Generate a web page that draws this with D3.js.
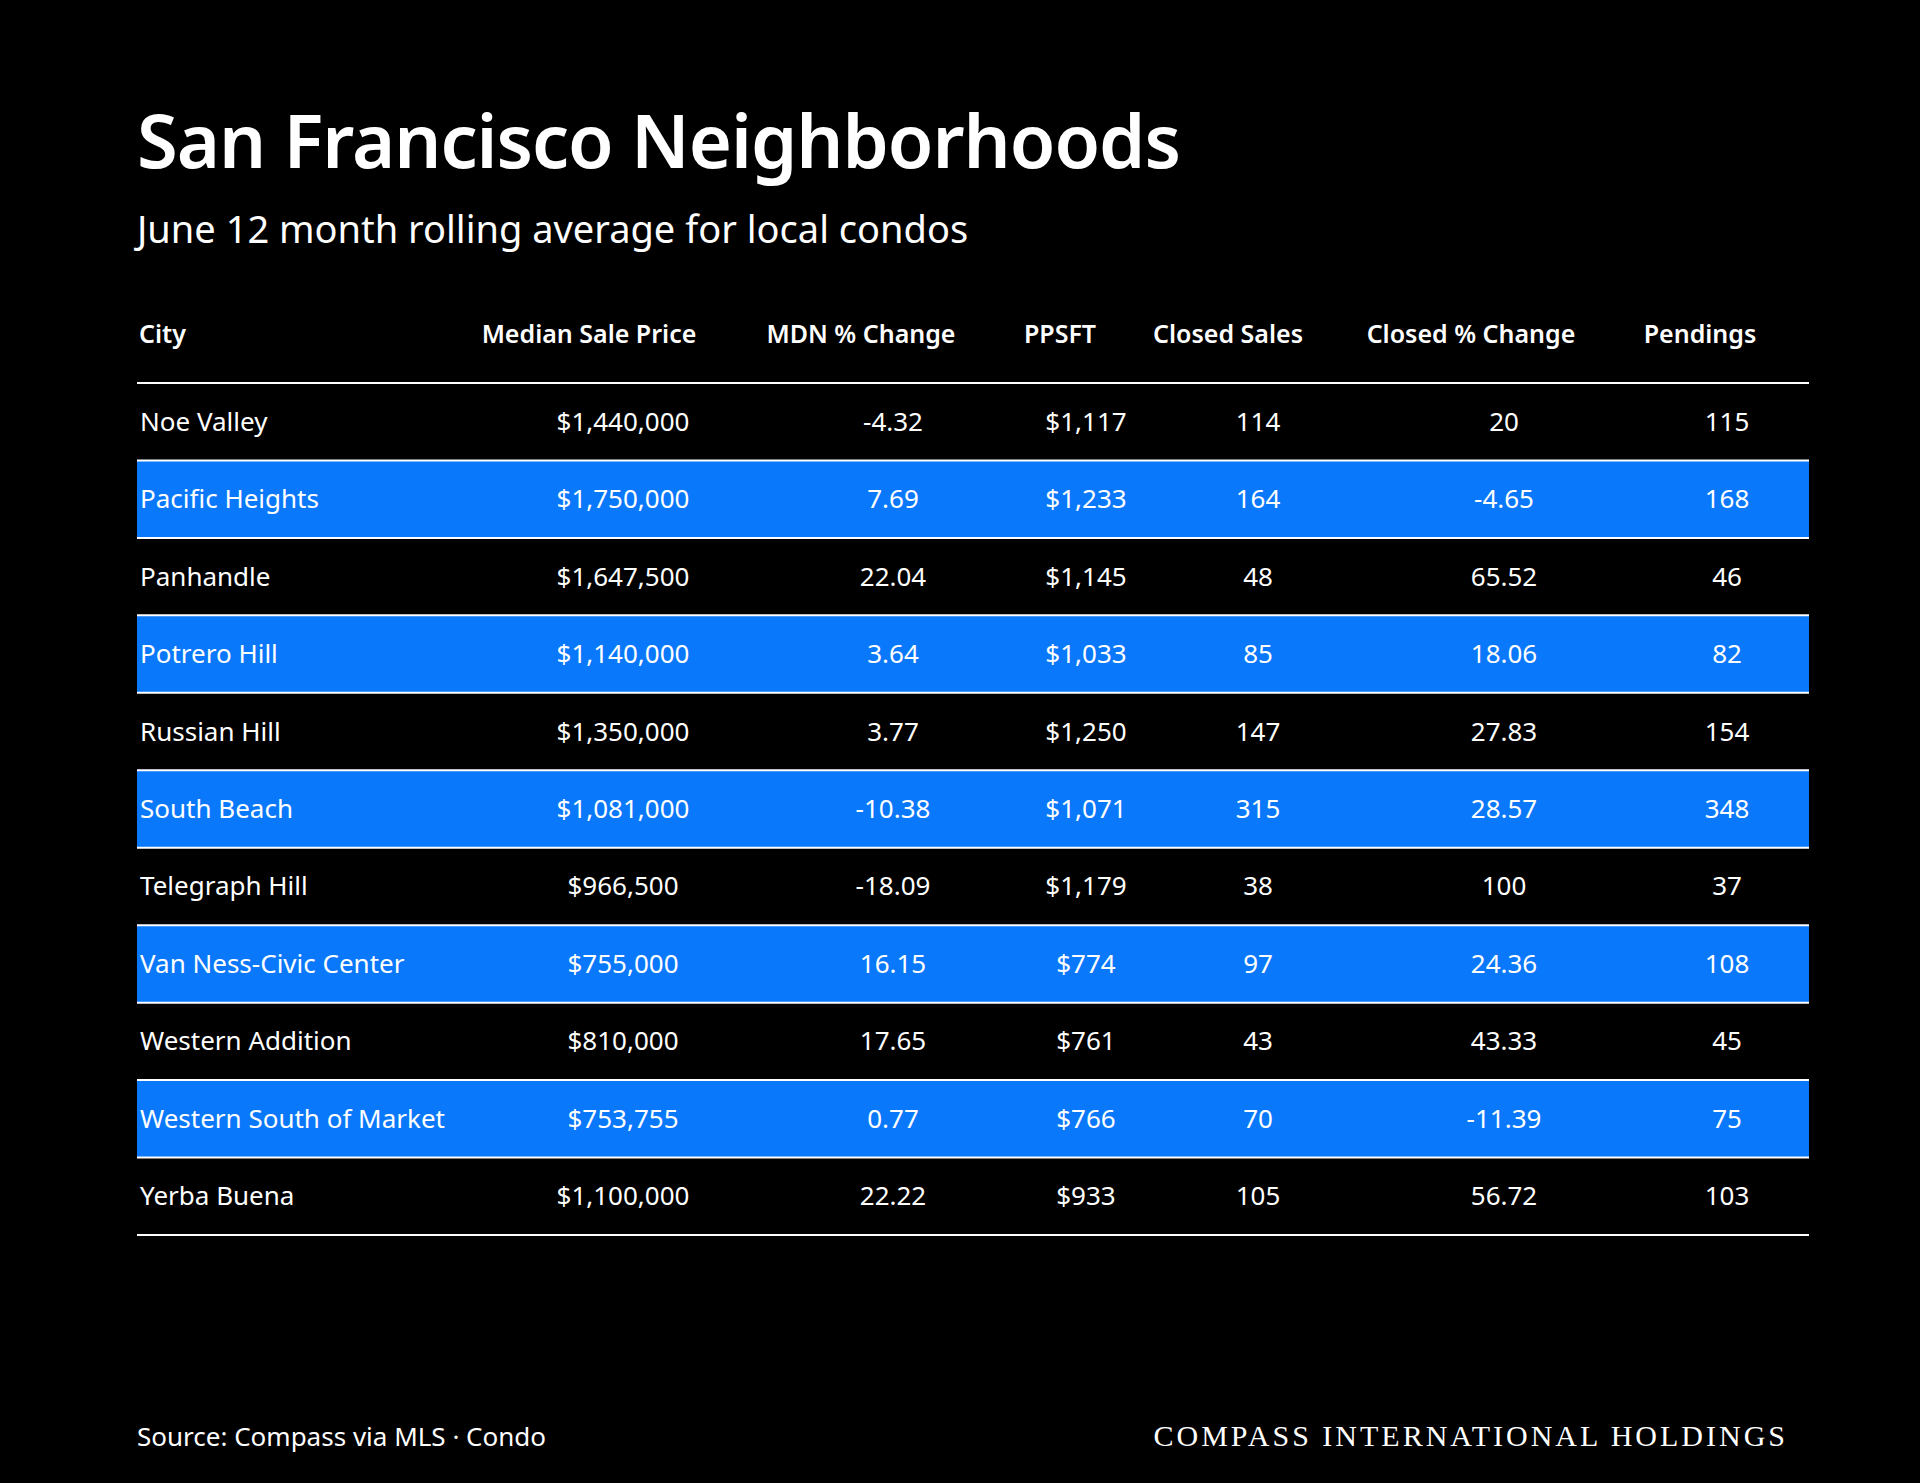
<!DOCTYPE html>
<html><head><meta charset="utf-8">
<script src="https://cdn.jsdelivr.net/npm/d3@7"></script>
<style>body{margin:0;background:#000}</style></head>
<body><svg id="c" width="1920" height="1483"></svg>
<script>
var cities = ['Noe Valley','Pacific Heights','Panhandle','Potrero Hill','Russian Hill','South Beach','Telegraph Hill','Van Ness-Civic Center','Western Addition','Western South of Market','Yerba Buena'];
var medianPrice = ['$1,440,000','$1,750,000','$1,647,500','$1,140,000','$1,350,000','$1,081,000','$966,500','$755,000','$810,000','$753,755','$1,100,000'];
var mdnChange = ['-4.32','7.69','22.04','3.64','3.77','-10.38','-18.09','16.15','17.65','0.77','22.22'];
var ppsft = ['$1,117','$1,233','$1,145','$1,033','$1,250','$1,071','$1,179','$774','$761','$766','$933'];
var closedSales = ['114','164','48','85','147','315','38','97','43','70','105'];
var closedChange = ['20','-4.65','65.52','18.06','27.83','28.57','100','24.36','43.33','-11.39','56.72'];
var pendings = ['115','168','46','82','154','348','37','108','45','75','103'];
var headers = ['City','Median Sale Price','MDN % Change','PPSFT','Closed Sales','Closed % Change','Pendings'];

var font = "'Noto Sans', Lato, sans-serif";
var svg = d3.select('#c');
var x0 = 137, x1 = 1809;

svg.append('text').attr('x', x0).attr('y', 168).attr('fill', '#fff')
  .attr('font-family', font).attr('font-size', 74).attr('font-weight', 600)
  .attr('letter-spacing', -1).text('San Francisco Neighborhoods');
svg.append('text').attr('x', x0).attr('y', 243).attr('fill', '#fff')
  .attr('font-family', font).attr('font-size', 38).text('June 12 month rolling average for local condos');

// columns: header center, value center
var headerX = [null, 589, 861, 1060, 1228, 1471, 1700];
var valueX = [null, 623, 893, 1086, 1258, 1504, 1727];
var cols = [cities, medianPrice, mdnChange, ppsft, closedSales, closedChange, pendings];

svg.selectAll('text.hdr').data(headers).enter().append('text')
  .attr('class', 'hdr')
  .attr('x', (d, i) => i === 0 ? x0 + 2 : headerX[i])
  .attr('y', 343)
  .attr('text-anchor', (d, i) => i === 0 ? 'start' : 'middle')
  .attr('fill', '#fff').attr('font-family', font).attr('font-size', 25).attr('font-weight', 600)
  .text(d => d);

var y = d3.scaleBand().domain(d3.range(cities.length)).range([383, 1235]);

var rows = svg.selectAll('g.row').data(cities).enter().append('g')
  .attr('class', 'row').attr('transform', (d, i) => 'translate(0,' + y(i) + ')');

rows.append('rect').attr('x', x0).attr('width', x1 - x0).attr('height', y.bandwidth())
  .attr('fill', (d, i) => i % 2 ? '#0a78fa' : '#000');
rows.append('line').attr('x1', x0).attr('x2', x1).attr('y1', 0).attr('y2', 0)
  .attr('stroke', '#fff').attr('stroke-width', 2);

cols.forEach(function(arr, c) {
  rows.append('text')
    .attr('x', c === 0 ? x0 + 3 : valueX[c])
    .attr('y', y.bandwidth() / 2 + 9)
    .attr('text-anchor', c === 0 ? 'start' : 'middle')
    .attr('fill', '#fff').attr('font-family', font).attr('font-size', 26)
    .text((d, i) => arr[i]);
});

svg.append('line').attr('x1', x0).attr('x2', x1).attr('y1', 1235).attr('y2', 1235)
  .attr('stroke', '#fff').attr('stroke-width', 2);

svg.append('text').attr('x', x0).attr('y', 1446).attr('fill', '#fff')
  .attr('font-family', font).attr('font-size', 26).text('Source: Compass via MLS · Condo');
svg.append('text').attr('x', 1788).attr('y', 1446).attr('text-anchor', 'end').attr('fill', '#fff')
  .attr('font-family', "'Liberation Serif', 'DejaVu Serif', serif").attr('font-size', 30)
  .attr('letter-spacing', 3).text('COMPASS INTERNATIONAL HOLDINGS');
</script></body></html>
